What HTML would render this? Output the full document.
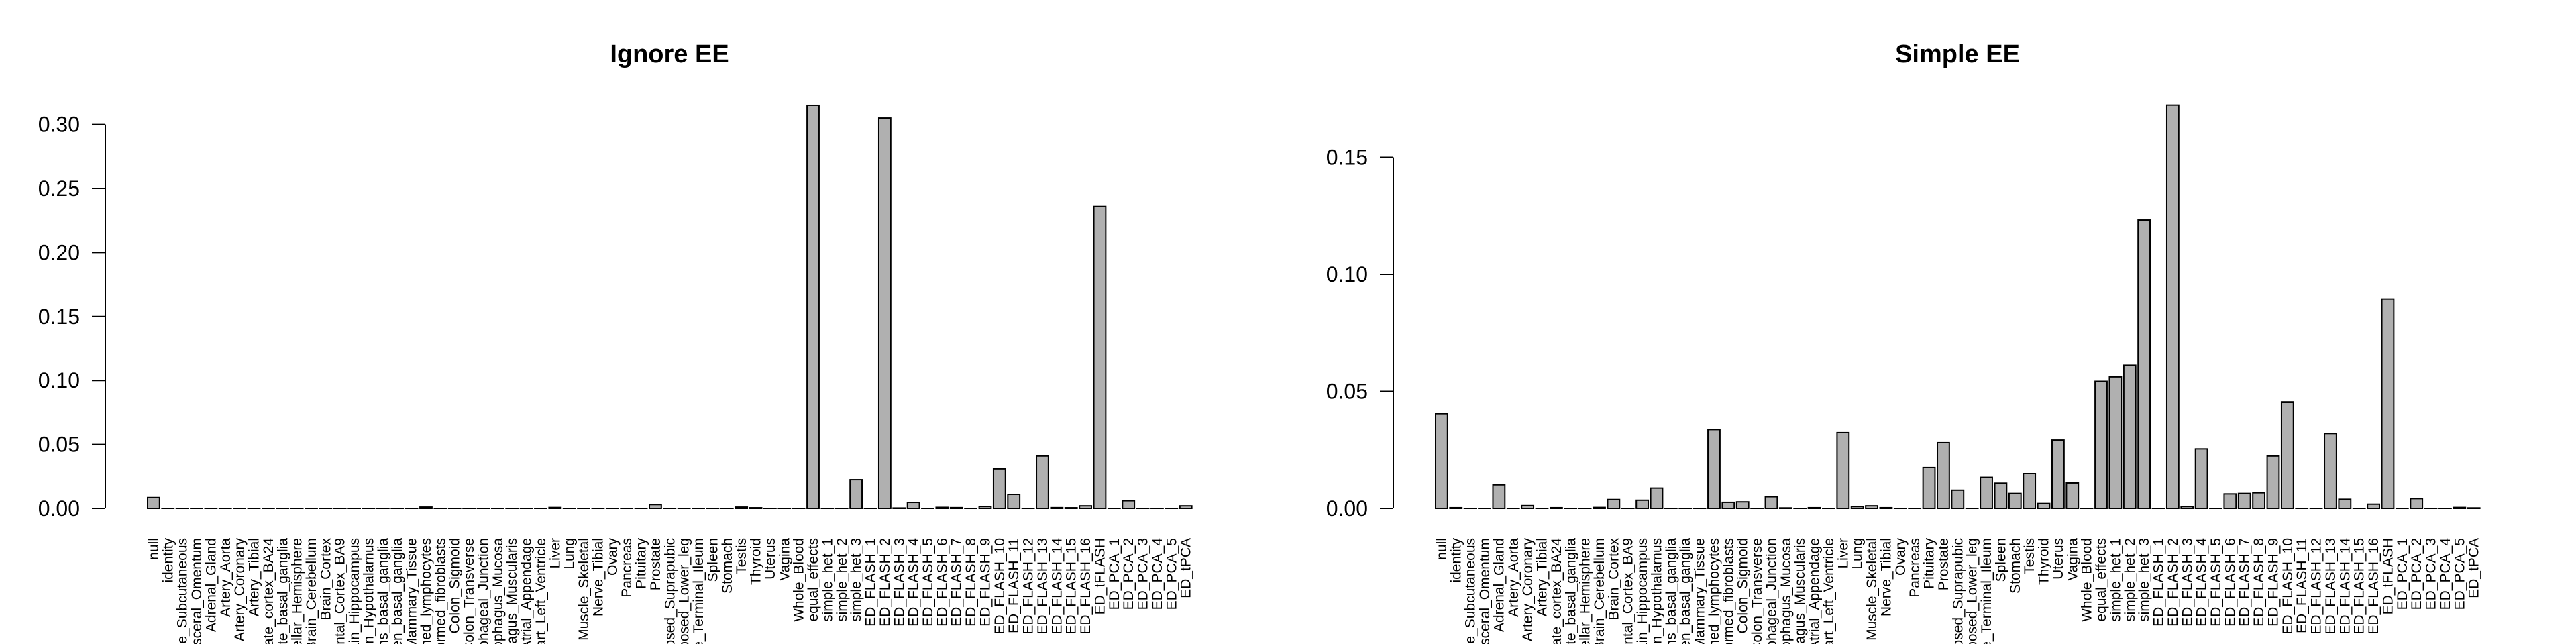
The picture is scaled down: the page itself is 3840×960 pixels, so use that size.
<!DOCTYPE html>
<html><head><meta charset="utf-8"><style>
html,body{margin:0;padding:0;background:#fff;width:3840px;height:960px;overflow:hidden}
svg{display:block;overflow:hidden;font-family:"Liberation Sans",Arial,sans-serif}
</style></head><body>
<svg id="s" width="3840" height="960" viewBox="0 0 3840 960" xmlns="http://www.w3.org/2000/svg"></svg>
<script>
var labels=["null","identity","Adipose_Subcutaneous","Adipose_Visceral_Omentum","Adrenal_Gland","Artery_Aorta","Artery_Coronary","Artery_Tibial","Brain_Anterior_cingulate_cortex_BA24","Brain_Caudate_basal_ganglia","Brain_Cerebellar_Hemisphere","Brain_Cerebellum","Brain_Cortex","Brain_Frontal_Cortex_BA9","Brain_Hippocampus","Brain_Hypothalamus","Brain_Nucleus_accumbens_basal_ganglia","Brain_Putamen_basal_ganglia","Breast_Mammary_Tissue","Cells_EBV-transformed_lymphocytes","Cells_Transformed_fibroblasts","Colon_Sigmoid","Colon_Transverse","Esophagus_Gastroesophageal_Junction","Esophagus_Mucosa","Esophagus_Muscularis","Heart_Atrial_Appendage","Heart_Left_Ventricle","Liver","Lung","Muscle_Skeletal","Nerve_Tibial","Ovary","Pancreas","Pituitary","Prostate","Skin_Not_Sun_Exposed_Suprapubic","Skin_Sun_Exposed_Lower_leg","Small_Intestine_Terminal_Ileum","Spleen","Stomach","Testis","Thyroid","Uterus","Vagina","Whole_Blood","equal_effects","simple_het_1","simple_het_2","simple_het_3","ED_FLASH_1","ED_FLASH_2","ED_FLASH_3","ED_FLASH_4","ED_FLASH_5","ED_FLASH_6","ED_FLASH_7","ED_FLASH_8","ED_FLASH_9","ED_FLASH_10","ED_FLASH_11","ED_FLASH_12","ED_FLASH_13","ED_FLASH_14","ED_FLASH_15","ED_FLASH_16","ED_tFLASH","ED_PCA_1","ED_PCA_2","ED_PCA_3","ED_PCA_4","ED_PCA_5","ED_tPCA"];
var n=labels.length;
var A=new Array(n).fill(0);
A[0]=0.0085;A[19]=0.001;A[28]=0.0007;A[35]=0.003;A[41]=0.001;A[42]=0.0005;
A[46]=0.315;A[49]=0.0225;A[51]=0.305;A[52]=0.0003;A[53]=0.0047;A[55]=0.0008;A[56]=0.0006;A[58]=0.0015;
A[59]=0.031;A[60]=0.011;A[62]=0.041;A[63]=0.0006;A[64]=0.0005;A[65]=0.002;A[66]=0.236;A[68]=0.006;A[72]=0.002;
var B=new Array(n).fill(0);
B[0]=0.0405;B[1]=0.0003;B[4]=0.0101;B[6]=0.0012;B[8]=0.0003;B[11]=0.0004;B[12]=0.0038;B[14]=0.0035;B[15]=0.0087;
B[19]=0.0337;B[20]=0.0026;B[21]=0.0028;B[23]=0.005;B[24]=0.0002;B[26]=0.0003;B[28]=0.0324;B[29]=0.0008;B[30]=0.0011;B[31]=0.0003;
B[34]=0.0175;B[35]=0.0281;B[36]=0.0078;B[38]=0.0133;B[39]=0.0108;B[40]=0.0064;B[41]=0.0149;B[42]=0.0021;B[43]=0.0292;B[44]=0.0109;
B[46]=0.0543;B[47]=0.0562;B[48]=0.0612;B[49]=0.1232;B[51]=0.1723;B[52]=0.0008;B[53]=0.0254;B[55]=0.0062;B[56]=0.0064;B[57]=0.0067;
B[58]=0.0224;B[59]=0.0455;B[62]=0.032;B[63]=0.0039;B[65]=0.0018;B[66]=0.0895;B[68]=0.0042;B[71]=0.0004;B[72]=0.0002;
var out="";
var base=758,w=17.81,per=w*1.2;
function chart(off,vals,title,ticks,ppu){
  var ax=157+off;
  out+='<text x="'+(998+off)+'" y="93" font-size="38" font-weight="bold" text-anchor="middle">'+title+'</text>';
  var top=base-ticks[ticks.length-1]*ppu;
  out+='<line x1="'+ax+'" y1="'+top+'" x2="'+ax+'" y2="'+base+'" stroke="#000" stroke-width="2"/>';
  ticks.forEach(function(t){var y=base-t*ppu;
    out+='<line x1="'+(ax-20)+'" y1="'+y+'" x2="'+ax+'" y2="'+y+'" stroke="#000" stroke-width="2"/>';
    out+='<text x="'+(ax-38)+'" y="'+(y+11)+'" font-size="32" text-anchor="end">'+t.toFixed(2)+'</text>';});
  for(var i=0;i<n;i++){var x=220+off+i*per;var h=vals[i]*ppu;
    if(h<1){out+='<rect x="'+(x-1).toFixed(2)+'" y="'+(base-1-h).toFixed(2)+'" width="'+(w+2).toFixed(2)+'" height="'+(2+h).toFixed(2)+'" fill="#000"/>';}
    else out+='<rect x="'+x.toFixed(2)+'" y="'+(base-h).toFixed(2)+'" width="'+w.toFixed(2)+'" height="'+h.toFixed(2)+'" fill="#b0b0b0" stroke="#000" stroke-width="2"/>';
    var cx=x+w/2+7;
    out+='<text transform="translate('+cx.toFixed(2)+',802) rotate(-90)" font-size="21" text-anchor="end">'+labels[i]+'</text>';}
}
chart(0,A,"Ignore EE",[0,0.05,0.10,0.15,0.20,0.25,0.30],1908);
chart(1920,B,"Simple EE",[0,0.05,0.10,0.15],3490);
document.getElementById("s").innerHTML=out;
</script>
</body></html>
